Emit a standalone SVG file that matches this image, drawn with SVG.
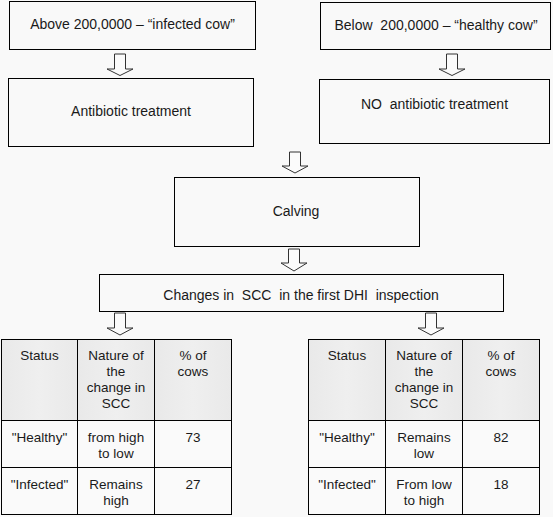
<svg xmlns="http://www.w3.org/2000/svg" width="553" height="517" viewBox="0 0 553 517">
<defs>
<style>
.box{fill:#f9f9f9;stroke:#000;stroke-width:1}
.arr{fill:#fbfbfb;stroke:#333;stroke-width:1}
.t{font-family:"Liberation Sans",Arial,sans-serif;font-size:14px;fill:#1a1a1a;text-anchor:middle;white-space:pre}
.c{font-family:"Liberation Sans",Arial,sans-serif;font-size:13.5px;fill:#1a1a1a;text-anchor:middle}
.hd{fill:url(#hg);stroke:#000;stroke-width:1}
.cell{fill:#fafafa;stroke:#000;stroke-width:1}
</style>
<linearGradient id="hg" x1="0" y1="0" x2="1" y2="0">
<stop offset="0" stop-color="#e9e9e9"/>
<stop offset="0.5" stop-color="#efefef"/>
<stop offset="1" stop-color="#e9e9e9"/>
</linearGradient>
</defs>
<rect x="0" y="0" width="553" height="517" fill="#f9f9f9"/>
<g id="connectors">
<polygon class="arr" points="114.5,54 125.5,54 125.5,69 133,69 120,75.5 107,69 114.5,69"/>
<polygon class="arr" points="446.5,54 457.5,54 457.5,69 465,69 452,75.5 439,69 446.5,69"/>
<polygon class="arr" points="289.5,152 300.5,152 300.5,166 308,166 295,173 282,166 289.5,166"/>
<polygon class="arr" points="288.5,249 299.5,249 299.5,263 307,263 294,271 281,263 288.5,263"/>
<polygon class="arr" points="114.5,313 125.5,313 125.5,328 133,328 120,335 107,328 114.5,328"/>
<polygon class="arr" points="425.5,313 436.5,313 436.5,328 444,328 431,335 418,328 425.5,328"/>
</g>
<g id="n1"><rect class="box" x="9.5" y="1.5" width="246" height="48"/><text class="t" x="132.5" y="29">Above 200,0000 – “infected cow”</text></g>
<g id="n2"><rect class="box" x="320.5" y="2.5" width="230" height="47"/><text class="t" x="436" y="30">Below  200,0000 – “healthy cow”</text></g>
<g id="n3"><rect class="box" x="8.5" y="78.5" width="245" height="68"/><text class="t" x="131" y="116">Antibiotic treatment</text></g>
<g id="n4"><rect class="box" x="319.5" y="79.5" width="230" height="64"/><text class="t" x="434.5" y="109">NO  antibiotic treatment</text></g>
<g id="n5"><rect class="box" x="174.5" y="177.5" width="245" height="69"/><text class="t" x="296" y="216">Calving</text></g>
<g id="n6"><rect class="box" x="99.5" y="274.5" width="404" height="37"/><text class="t" x="301" y="300">Changes in  SCC  in the first DHI  inspection</text></g>
<g id="tableLeft">
<rect class="hd" x="1.5" y="339.5" width="76" height="81"/>
<rect class="hd" x="77.5" y="339.5" width="77" height="81"/>
<rect class="hd" x="154.5" y="339.5" width="77" height="81"/>
<rect class="cell" x="1.5" y="420.5" width="76" height="47"/>
<rect class="cell" x="77.5" y="420.5" width="77" height="47"/>
<rect class="cell" x="154.5" y="420.5" width="77" height="47"/>
<rect class="cell" x="1.5" y="467.5" width="76" height="47"/>
<rect class="cell" x="77.5" y="467.5" width="77" height="47"/>
<rect class="cell" x="154.5" y="467.5" width="77" height="47"/>
<text class="c" x="39.5" y="360">Status</text>
<text class="c" x="116" y="360">Nature of</text>
<text class="c" x="116" y="376">the</text>
<text class="c" x="116" y="392">change in</text>
<text class="c" x="116" y="408">SCC</text>
<text class="c" x="193" y="360">% of</text>
<text class="c" x="193" y="376">cows</text>
<text class="c" x="39.5" y="442">"Healthy"</text>
<text class="c" x="116" y="442">from high</text>
<text class="c" x="116" y="458">to low</text>
<text class="c" x="193" y="442">73</text>
<text class="c" x="39.5" y="489">"Infected"</text>
<text class="c" x="116" y="489">Remains</text>
<text class="c" x="116" y="505">high</text>
<text class="c" x="193" y="489">27</text>
</g>
<g id="tableRight">
<rect class="hd" x="308.5" y="339.5" width="77" height="81"/>
<rect class="hd" x="385.5" y="339.5" width="77" height="81"/>
<rect class="hd" x="462.5" y="339.5" width="77" height="81"/>
<rect class="cell" x="308.5" y="420.5" width="77" height="47"/>
<rect class="cell" x="385.5" y="420.5" width="77" height="47"/>
<rect class="cell" x="462.5" y="420.5" width="77" height="47"/>
<rect class="cell" x="308.5" y="467.5" width="77" height="47"/>
<rect class="cell" x="385.5" y="467.5" width="77" height="47"/>
<rect class="cell" x="462.5" y="467.5" width="77" height="47"/>
<text class="c" x="347" y="360">Status</text>
<text class="c" x="424" y="360">Nature of</text>
<text class="c" x="424" y="376">the</text>
<text class="c" x="424" y="392">change in</text>
<text class="c" x="424" y="408">SCC</text>
<text class="c" x="501" y="360">% of</text>
<text class="c" x="501" y="376">cows</text>
<text class="c" x="347" y="442">"Healthy"</text>
<text class="c" x="424" y="442">Remains</text>
<text class="c" x="424" y="458">low</text>
<text class="c" x="501" y="442">82</text>
<text class="c" x="347" y="489">"Infected"</text>
<text class="c" x="424" y="489">From low</text>
<text class="c" x="424" y="505">to high</text>
<text class="c" x="501" y="489">18</text>
</g>
</svg>
